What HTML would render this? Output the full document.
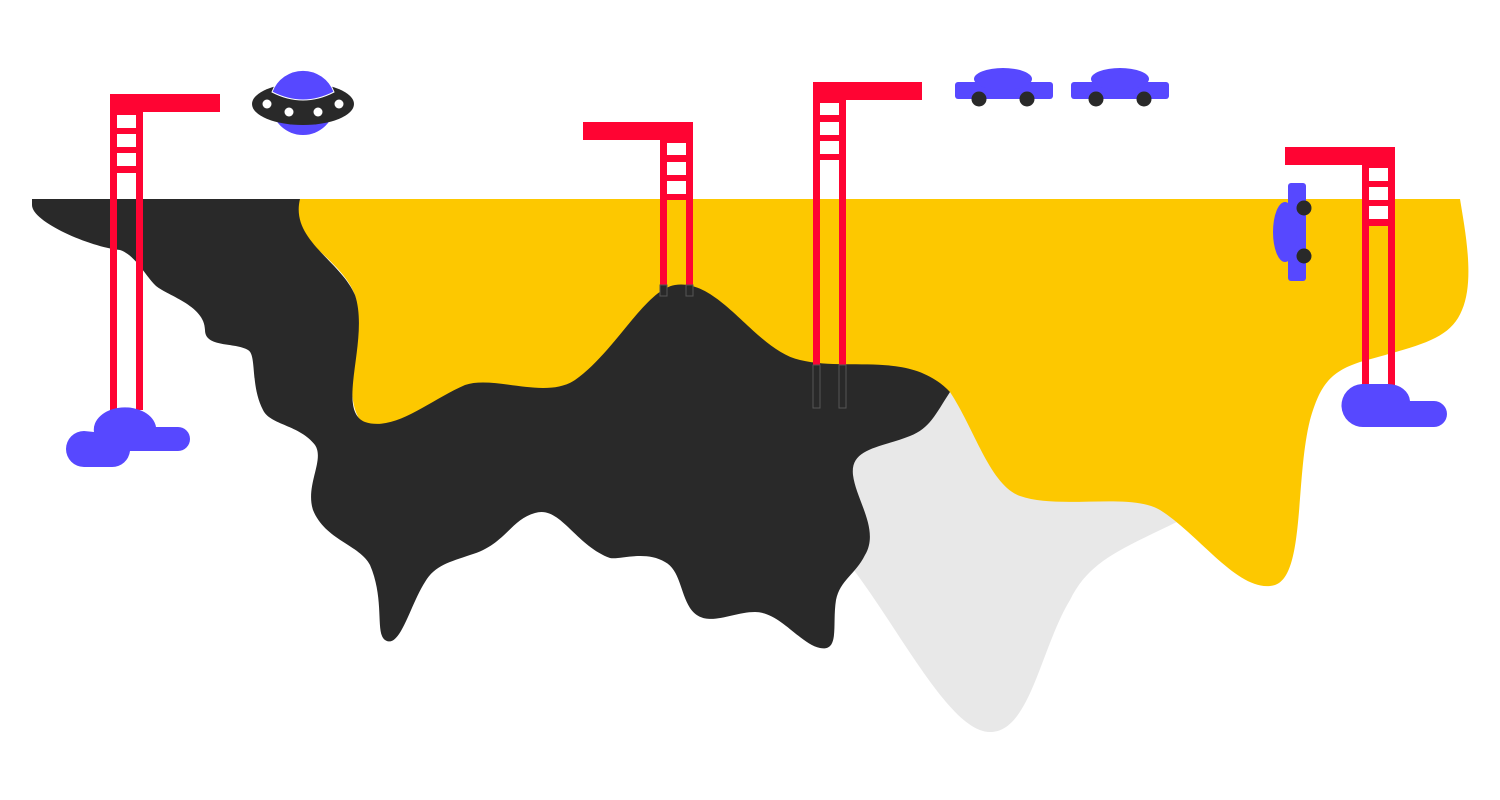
<!DOCTYPE html>
<html><head><meta charset="utf-8"><style>html,body{margin:0;padding:0;background:#fff}svg{display:block}</style></head>
<body>
<svg width="1500" height="800" viewBox="0 0 1500 800" xmlns="http://www.w3.org/2000/svg">
<!-- gray -->
<path d="M840,380 L1000,380 L1150,490 L1185,518 C1120,550 1090,560 1070,600 C1040,650 1030,732 990,732 C950,732 900,630 850,565 Z" fill="#e8e8e8"/>
<!-- yellow -->
<path d="M296,199 H1460 C1465,230 1475,280 1462,310 C1450,340 1420,345 1360,362 C1330,372 1320,385 1310,420 C1295,480 1305,575 1275,585 C1240,595 1200,535 1160,510 C1130,492 1060,510 1020,496 C990,485 975,430 950,392 L900,400 L820,480 L700,540 L600,530 L540,490 L420,470 L360,420 C340,390 365,330 355,295 C340,255 280,235 296,199 Z" fill="#fdc800"/>
<!-- black -->
<path d="M32,199 H300 C290,240 340,260 355,295 C370,340 335,410 365,422 C395,432 430,400 465,385 C495,375 545,400 575,380 C615,352 645,290 675,285 C720,278 755,350 800,360 C850,372 910,350 950,392 C935,415 930,428 910,436 C880,448 850,448 853,475 C856,500 880,530 865,555 C855,575 840,580 836,600 C832,625 840,652 820,648 C800,644 780,612 755,612 C730,612 705,630 690,608 C680,592 680,570 665,562 C645,550 620,560 610,558 C575,545 560,505 535,513 C510,520 505,545 470,555 C450,562 435,565 425,582 C410,605 400,650 385,640 C375,633 385,600 370,565 C360,545 325,540 313,510 C305,485 325,460 315,445 C300,425 270,425 263,410 C250,385 257,355 248,350 C235,342 205,348 205,330 C205,305 165,295 155,285 C145,275 135,255 120,250 C90,247 32,222 32,205 Z" fill="#292929"/>
<!-- cranes -->
<g fill="#ff0433">
<rect x="110" y="94" width="110" height="18"/><rect x="110" y="94" width="7" height="316"/><rect x="136" y="94" width="7" height="316"/><rect x="117" y="110" width="19" height="63"/>
<rect x="583" y="122" width="109" height="18"/><rect x="660" y="122" width="7" height="173"/><rect x="686" y="122" width="7" height="173"/><rect x="667" y="138" width="19" height="62"/>
<rect x="813" y="82" width="109" height="18"/><rect x="813" y="82" width="7" height="283"/><rect x="839" y="82" width="7" height="283"/><rect x="820" y="98" width="19" height="62"/>
<rect x="1285" y="147" width="109" height="18"/><rect x="1362" y="147" width="7" height="240"/><rect x="1388" y="147" width="7" height="240"/><rect x="1369" y="163" width="19" height="63"/>
</g>
<g fill="#fff">
<rect x="117" y="115" width="19" height="13"/><rect x="117" y="134" width="19" height="13"/><rect x="117" y="153" width="19" height="13"/>
<rect x="667" y="143" width="19" height="12"/><rect x="667" y="162" width="19" height="13"/><rect x="667" y="181" width="19" height="13"/>
<rect x="820" y="103" width="19" height="12"/><rect x="820" y="122" width="19" height="13"/><rect x="820" y="141" width="19" height="13"/>
<rect x="1369" y="168" width="19" height="13"/><rect x="1369" y="187" width="19" height="13"/><rect x="1369" y="206" width="19" height="13"/>
</g>
<g fill="#292929" stroke="#555" stroke-width="1"><rect x="813" y="365" width="7" height="43"/><rect x="839" y="365" width="7" height="43"/><rect x="660" y="285" width="7" height="11"/><rect x="686" y="285" width="7" height="11"/></g>
<!-- clouds -->
<g fill="#5748ff">
<path d="M94,432 A31,22 0 0 1 156,427 H178 A12,12 0 0 1 178,451 H130 A18,18 0 0 1 112,467 H84 A18,18 0 0 1 84,431 Z"/>
<path d="M1362,384 H1388 A22,18 0 0 1 1410,401 H1434 A13,13 0 0 1 1434,427 H1364 A21,21 0 0 1 1362,384 Z"/>
</g>
<!-- UFO -->
<circle cx="303" cy="103" r="32" fill="#5748ff"/>
<ellipse cx="303" cy="104" rx="51" ry="21" fill="#292929"/>
<path d="M272,92 A33,33 0 0 1 334,92 Q303,108 272,92 Z" fill="#5748ff" stroke="#fff" stroke-width="1"/>
<g fill="#fff"><circle cx="267" cy="104" r="4.5"/><circle cx="289" cy="112" r="4.5"/><circle cx="318" cy="112" r="4.5"/><circle cx="339" cy="104" r="4.5"/></g>
<!-- cars -->
<g fill="#5748ff">
<rect x="955" y="82" width="98" height="17" rx="3"/><ellipse cx="1003" cy="79" rx="29" ry="11"/>
<rect x="1071" y="82" width="98" height="17" rx="3"/><ellipse cx="1120" cy="79" rx="29" ry="11"/>
<rect x="1288" y="183" width="18" height="98" rx="3"/><ellipse cx="1285" cy="232" rx="12" ry="30"/>
</g>
<g fill="#292929"><circle cx="979" cy="99" r="7.5"/><circle cx="1027" cy="99" r="7.5"/><circle cx="1096" cy="99" r="7.5"/><circle cx="1144" cy="99" r="7.5"/><circle cx="1304" cy="208" r="7.5"/><circle cx="1304" cy="256" r="7.5"/></g>
</svg>
</body></html>
